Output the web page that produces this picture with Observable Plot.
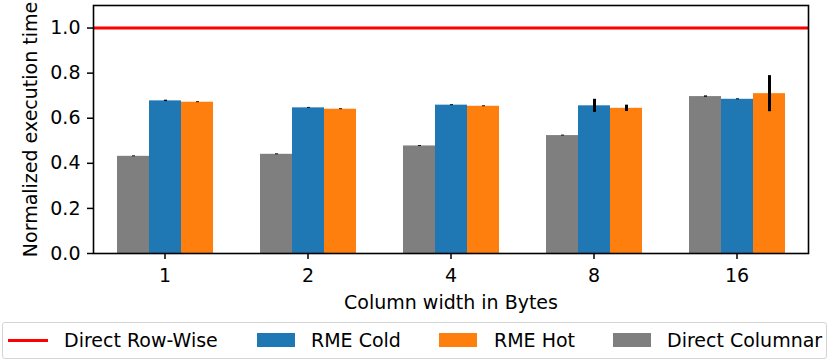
<!DOCTYPE html>
<html>
<head>
<meta charset="utf-8">
<script src="https://cdn.jsdelivr.net/npm/d3@7"></script>
<script src="https://cdn.jsdelivr.net/npm/@observablehq/plot@0.6"></script>
<style>
  html, body { margin: 0; padding: 0; background: #fff; }
  body { width: 830px; height: 361px; position: relative; overflow: hidden; font-family: "DejaVu Sans", sans-serif; }
  #chart { position: absolute; left: 0; top: 0; }
  #legend {
    position: absolute; left: 2px; top: 322px; width: 825px; height: 37px;
    box-sizing: border-box; border: 1px solid #d4d4d4; border-radius: 3px;
    font-size: 19px; color: #000; white-space: nowrap;
  }
  .sw, .ln, .tx { position: absolute; }
  .sw { width: 38px; height: 14px; top: 10px; }
  .ln { width: 40px; height: 3px; top: 16px; }
  .tx { top: 5px; line-height: 24px; }
</style>
</head>
<body>
<div id="chart"></div>
<div id="legend"></div>
<script>
// ---- data ----
const widths = ["1", "2", "4", "8", "16"];
const series = ["Direct Columnar", "RME Cold", "RME Hot"];
const directColumnar    = [0.431, 0.440, 0.477, 0.523, 0.696];
const directColumnarErr = [0.002, 0.002, 0.002, 0.002, 0.003];
const rmeCold    = [0.677, 0.646, 0.658, 0.655, 0.684];
const rmeColdErr = [0.003, 0.002, 0.002, 0.029, 0.002];
const rmeHot     = [0.671, 0.640, 0.653, 0.644, 0.709];
const rmeHotErr  = [0.002, 0.002, 0.002, 0.014, 0.080];
const directRowWise = [1.0];
const yTicks = [0, 0.2, 0.4, 0.6, 0.8, 1.0];
const colors = ["#7f7f7f", "#1f77b4", "#ff7f0e"];
const lineColor = "#ff0000";

const valuesBySeries = [directColumnar, rmeCold, rmeHot];
const errBySeries = [directColumnarErr, rmeColdErr, rmeHotErr];
const rows = [];
widths.forEach((w, i) => {
  series.forEach((s, j) => {
    rows.push({width: w, series: s, value: valuesBySeries[j][i], err: errBySeries[j][i]});
  });
});

const chart = Plot.plot({
  width: 830,
  height: 318,
  marginLeft: 91,
  marginRight: 20,
  marginTop: 5,
  marginBottom: 65,
  style: {fontFamily: "DejaVu Sans, sans-serif", fontSize: "19px", color: "#000", background: "#fff"},
  fx: {domain: widths, padding: 0},
  x: {domain: series, axis: null, paddingInner: 0, paddingOuter: 0.7},
  y: {domain: [0, 1.1]},
  color: {domain: series, range: colors},
  marks: [
    Plot.barY(rows, {fx: "width", x: "series", y: "value", fill: "series"}),
    Plot.ruleX(rows, {fx: "width", x: "series", y1: d => d.value - d.err, y2: d => d.value + d.err, stroke: "#000", strokeWidth: 3}),
    Plot.ruleY(directRowWise, {stroke: lineColor, strokeWidth: 3}),
    Plot.axisY({ticks: yTicks, tickFormat: ".1f", tickSize: 6, tickPadding: 7, strokeWidth: 1.5,
      label: "Normalized execution time", labelAnchor: "center", labelOffset: 70, labelArrow: "none"}),
    Plot.axisFx({anchor: "bottom", tickSize: 6, tickPadding: 9, strokeWidth: 1.5,
      label: "Column width in Bytes", labelAnchor: "center", labelOffset: 55, labelArrow: "none"}),
    Plot.frame({facet: "super", stroke: "#000", strokeWidth: 1.6})
  ]
});
document.getElementById("chart").appendChild(chart);

// legend (positions relative to the legend box)
const legend = document.getElementById("legend");
const items = [
  {label: "Direct Row-Wise", color: lineColor, type: "line", hx: 5, tx: 61},
  {label: series[1], color: colors[1], type: "box", hx: 254, tx: 308},
  {label: series[2], color: colors[2], type: "box", hx: 436, tx: 491},
  {label: series[0], color: colors[0], type: "box", hx: 610, tx: 664}
];
items.forEach(it => {
  const sw = document.createElement("div");
  sw.className = it.type === "line" ? "ln" : "sw";
  sw.style.background = it.color;
  sw.style.left = it.hx + "px";
  const t = document.createElement("div");
  t.className = "tx";
  t.style.left = it.tx + "px";
  t.textContent = it.label;
  legend.appendChild(sw); legend.appendChild(t);
});
</script>
</body>
</html>
